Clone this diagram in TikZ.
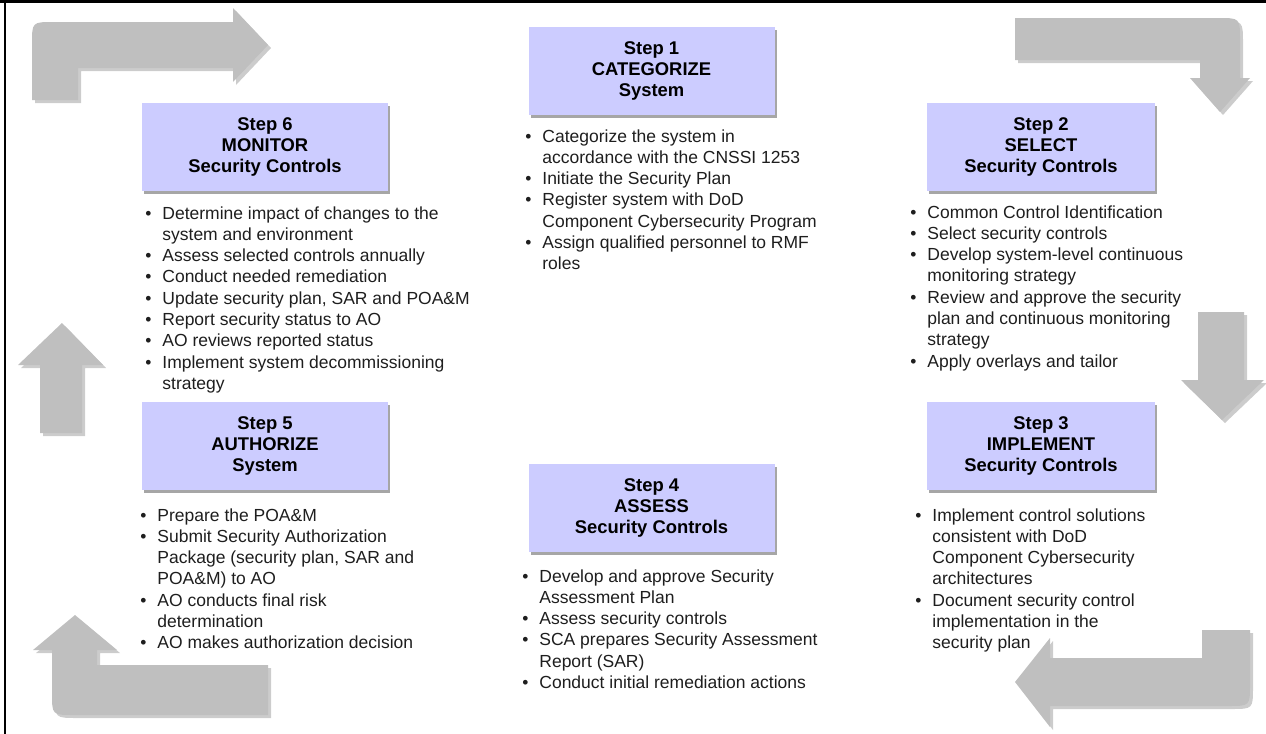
\documentclass[tikz,border=0pt]{standalone}
\usepackage{fontspec}
\setmainfont{Liberation Sans}
\usepackage{tikz}
\usetikzlibrary{positioning, shadows}

\definecolor{boxblue}{RGB}{204,204,255}
\definecolor{arrowgrey}{RGB}{191,191,191}
\definecolor{textgrey}{RGB}{30,30,30}
\newcommand{\stepitems}[1]{\begin{tabular}[t]{@{}p{8.5pt}@{}l@{}}#1\end{tabular}}

\begin{document}
\begin{tikzpicture}[x=0.5pt,y=-0.5pt,
    stepbox/.style={fill=boxblue, minimum width=123pt, minimum height=44pt, inner sep=0pt, align=center,
        font=\fontsize{9.2}{10.5}\selectfont\bfseries, drop shadow={shadow xshift=1pt, shadow yshift=-1.5pt, fill=black, opacity=.35}},
    steptext/.style={anchor=base west, inner sep=0pt, text=textgrey, font=\fontsize{8.75}{10.65}\selectfont},
    bigarrow/.style={fill=arrowgrey, drop shadow={shadow xshift=1.5pt, shadow yshift=-1.5pt, fill=black, opacity=.2}}]
\useasboundingbox (0,0) rectangle (1266,734);
\draw[line width=1.5pt](0,1.5)--(1266,1.5);
\draw[line width=1pt](5,0)--(5,734);

% turning arrows
\fill[bigarrow](32,100)--(32,44) .. controls (32,22) .. (54,22)--(233,22)--(233,8)--(268,45)--(233,82)--(233,68)--(78,68)--(78,100)--cycle;
\fill[bigarrow](1015,18)--(1218,18) .. controls (1240,18) .. (1240,40)--(1240,78)--(1250,78)--(1220,112)--(1190,78)--(1200,78)--(1200,60)--(1015,60)--cycle;
\fill[bigarrow](1198,312)--(1244,312)--(1244,380)--(1264,380)--(1222,420)--(1181,380)--(1198,380)--cycle;
\fill[bigarrow](1202,630)--(1250,630)--(1250,684) .. controls (1250,706) .. (1228,706)--(1050,706)--(1050,727)--(1015,682)--(1050,638)--(1050,658)--(1202,658)--cycle;
\fill[bigarrow](75,615)--(117,650)--(97,650)--(97,665)--(268,665)--(268,715)--(74,715) .. controls (52,715) .. (52,693)--(52,650)--(33,650)--cycle;
\fill[bigarrow](62,323)--(103,365)--(82,365)--(82,433)--(40,433)--(40,365)--(18,365)--cycle;

% steps
\node[stepbox](cat) at (651.5,71){Step 1\\CATEGORIZE\\System};
\node[stepbox, minimum width=114pt](sel) at (1041,147){Step 2\\SELECT\\Security Controls};
\node[stepbox, minimum width=114pt](imp) at (1041,446){Step 3\\IMPLEMENT\\Security Controls};
\node[stepbox](ass) at (651.5,507.5){Step 4\\ASSESS\\Security Controls};
\node[stepbox](aut) at (265,446){Step 5\\AUTHORIZE\\System};
\node[stepbox](mon) at (265,147){Step 6\\MONITOR\\Security Controls};

\node[steptext](catlist) at (525,142){\stepitems{
  \textbullet & Categorize the system in\\ & accordance with the CNSSI 1253\\
  \textbullet & Initiate the Security Plan\\
  \textbullet & Register system with DoD\\ & Component Cybersecurity Program\\
  \textbullet & Assign qualified personnel to RMF\\ & roles}};
\node[steptext](sellist) at (910,218){\stepitems{
  \textbullet & Common Control Identification\\
  \textbullet & Select security controls\\
  \textbullet & Develop system-level continuous\\ & monitoring strategy\\
  \textbullet & Review and approve the security\\ & plan and continuous monitoring\\ & strategy\\
  \textbullet & Apply overlays and tailor}};
\node[steptext](implist) at (915,521){\stepitems{
  \textbullet & Implement control solutions\\ & consistent with DoD\\ & Component Cybersecurity\\ & architectures\\
  \textbullet & Document security control\\ & implementation in the\\ & security plan}};
\node[steptext](asslist) at (522,582){\stepitems{
  \textbullet & Develop and approve Security\\ & Assessment Plan\\
  \textbullet & Assess security controls\\
  \textbullet & SCA prepares Security Assessment\\ & Report (SAR)\\
  \textbullet & Conduct initial remediation actions}};
\node[steptext](autlist) at (140,521){\stepitems{
  \textbullet & Prepare the POA\&M\\
  \textbullet & Submit Security Authorization\\ & Package (security plan, SAR and\\ & POA\&M) to AO\\
  \textbullet & AO conducts final risk\\ & determination\\
  \textbullet & AO makes authorization decision}};
\node[steptext](monlist) at (145,219){\stepitems{
  \textbullet & Determine impact of changes to the\\ & system and environment\\
  \textbullet & Assess selected controls annually\\
  \textbullet & Conduct needed remediation\\
  \textbullet & Update security plan, SAR and POA\&M\\
  \textbullet & Report security status to AO\\
  \textbullet & AO reviews reported status\\
  \textbullet & Implement system decommissioning\\ & strategy}};
\end{tikzpicture}
\end{document}
